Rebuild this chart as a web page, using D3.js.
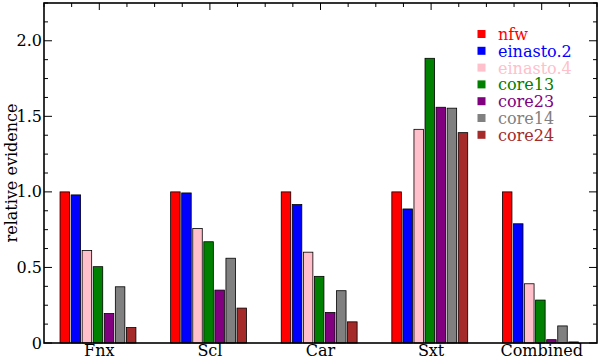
<!DOCTYPE html>
<html><head><meta charset="utf-8">
<script src="https://cdn.jsdelivr.net/npm/d3@7"></script>
<style>body{margin:0;background:#fff}svg{display:block}text{font-family:"DejaVu Serif",serif}</style>
</head><body>
<svg id="c" width="600" height="359"></svg>
<script>
const categories = ["Fnx", "Scl", "Car", "Sxt", "Combined"];
const seriesNames = ["nfw", "einasto.2", "einasto.4", "core13", "core23", "core14", "core24"];
const seriesColors = ["#ff0000", "#0000ff", "#ffc0cb", "#008000", "#800080", "#808080", "#a52a2a"];
const nfw       = [1.00, 1.00, 1.00, 1.00, 1.00];
const einasto2  = [0.98, 0.993, 0.916, 0.887, 0.789];
const einasto4  = [0.612, 0.758, 0.601, 1.414, 0.392];
const core13    = [0.505, 0.670, 0.441, 1.884, 0.284];
const core23    = [0.195, 0.350, 0.202, 1.560, 0.022];
const core14    = [0.372, 0.561, 0.346, 1.554, 0.113];
const core24    = [0.102, 0.231, 0.140, 1.392, 0.007];
const yTicks = [0, 0.5, 1.0, 1.5, 2.0];
const yTickLabels = ["0", "0.5", "1.0", "1.5", "2.0"];

const series = [nfw, einasto2, einasto4, core13, core23, core14, core24];

const svg = d3.select("#c");
const L = 44, R = 597, T = 3, B = 343;
const x = d3.scaleLinear().domain([-0.5, 4.5]).range([L, R]);
const y = d3.scaleLinear().domain([0, 2.25]).range([B, T]);

// bars
const barW = 0.086, pitch = 0.1;
series.forEach((vals, si) => {
  svg.append("g").selectAll("rect").data(vals).join("rect")
    .attr("x", (d, ci) => x(ci + (si - 3) * pitch - 0.012 - barW / 2))
    .attr("width", x(barW) - x(0))
    .attr("y", d => y(d))
    .attr("height", d => y(0) - y(d))
    .attr("fill", seriesColors[si])
    .attr("stroke", "#000").attr("stroke-width", 0.8);
});

// axes ticks
const minorY = d3.range(0, 2.25001, 0.125);
const minorX = d3.range(-0.5, 4.5001, 0.25);
const g = svg.append("g").attr("stroke", "#000");
minorY.forEach(v => {
  const major = Math.abs(v / 0.5 - Math.round(v / 0.5)) < 1e-6;
  const len = major ? 8 : 4;
  g.append("line").attr("x1", L).attr("x2", L + len).attr("y1", y(v)).attr("y2", y(v)).attr("stroke-width", 1);
  g.append("line").attr("x1", R).attr("x2", R - len).attr("y1", y(v)).attr("y2", y(v)).attr("stroke-width", 1);
});
minorX.forEach(v => {
  const major = Math.abs(v - Math.round(v)) < 1e-6;
  const len = major ? 7 : 4;
  g.append("line").attr("x1", x(v)).attr("x2", x(v)).attr("y1", T).attr("y2", T + len).attr("stroke-width", 1);
});
svg.append("rect").attr("x", L).attr("y", T).attr("width", R - L).attr("height", B - T)
  .attr("fill", "none").attr("stroke", "#000").attr("stroke-width", 1.6);

// y tick labels
svg.append("g").selectAll("text").data(yTicks).join("text")
  .attr("x", L - 2).attr("y", d => y(d) + 5.5)
  .attr("text-anchor", "end").attr("font-size", 16)
  .text((d, i) => yTickLabels[i]);

// category labels
svg.append("g").selectAll("text").data(categories).join("text")
  .attr("x", (d, i) => x(i)).attr("y", 356)
  .attr("text-anchor", "middle").attr("font-size", 16)
  .text(d => d);

// y label
svg.append("text").attr("transform", `translate(17,${(T + B) / 2}) rotate(-90)`)
  .attr("text-anchor", "middle").attr("font-size", 16).text("relative evidence");

// legend
const lg = svg.append("g");
seriesNames.forEach((n, i) => {
  const cy = 34 + i * 16.8;
  lg.append("rect").attr("x", 477.5).attr("y", cy - 4).attr("width", 8).attr("height", 8).attr("fill", seriesColors[i]);
  lg.append("text").attr("x", 498).attr("y", cy + 6).attr("font-size", 16).attr("fill", seriesColors[i]).text(n);
});
</script>
</body></html>
